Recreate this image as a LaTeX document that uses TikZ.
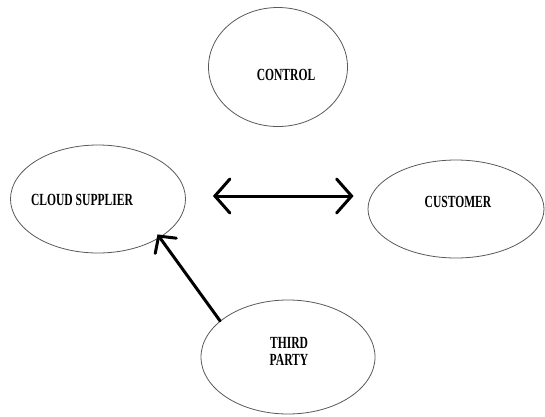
\documentclass[tikz,border=0pt]{standalone}
\usepackage{fontspec}
\usetikzlibrary{shapes.geometric,arrows.meta}
\newfontfamily\lab[FakeStretch=0.68]{Liberation Serif}
\begin{document}
\begin{tikzpicture}[x=1pt,y=-1pt,
  oval/.style={ellipse,draw=black!65,line width=0.8pt,inner sep=0pt},
  lbl/.style={font=\lab\bfseries\fontsize{17}{17}\selectfont,inner sep=0pt,align=center},
  thick arrow/.style={line width=3pt,line cap=round}]
\useasboundingbox (0,0) rectangle (545,416);
\node[oval,minimum width=139pt,minimum height=119pt] (ctl) at (278,67) {};
\node[oval,minimum width=175pt,minimum height=108pt] (cs) at (98,199) {};
\node[oval,minimum width=176pt,minimum height=98pt] (cu) at (456,209) {};
\node[oval,minimum width=174pt,minimum height=114pt] (tp) at (288,357) {};
\node[lbl] (tctl) at (286,75) {CONTROL};
\node[lbl] (tcs) at (82,200) {CLOUD SUPPLIER};
\node[lbl] (tcu) at (458,202) {CUSTOMER};
\node[lbl] (ttp) at (289,351) {THIRD\\PARTY};
\draw[thick arrow,{Straight Barb[length=15pt,width=34pt,line cap=round]}-{Straight Barb[length=15pt,width=34pt,line cap=round]}]
  ([xshift=27pt,yshift=3pt]cs.east) -- ([xshift=-14pt,yshift=13pt]cu.west);
\draw[thick arrow,-{Straight Barb[length=12pt,width=26pt,line cap=round]},shorten >=-4pt]
  (tp.152.8) -- (cs.-32.6);
\end{tikzpicture}
\end{document}
